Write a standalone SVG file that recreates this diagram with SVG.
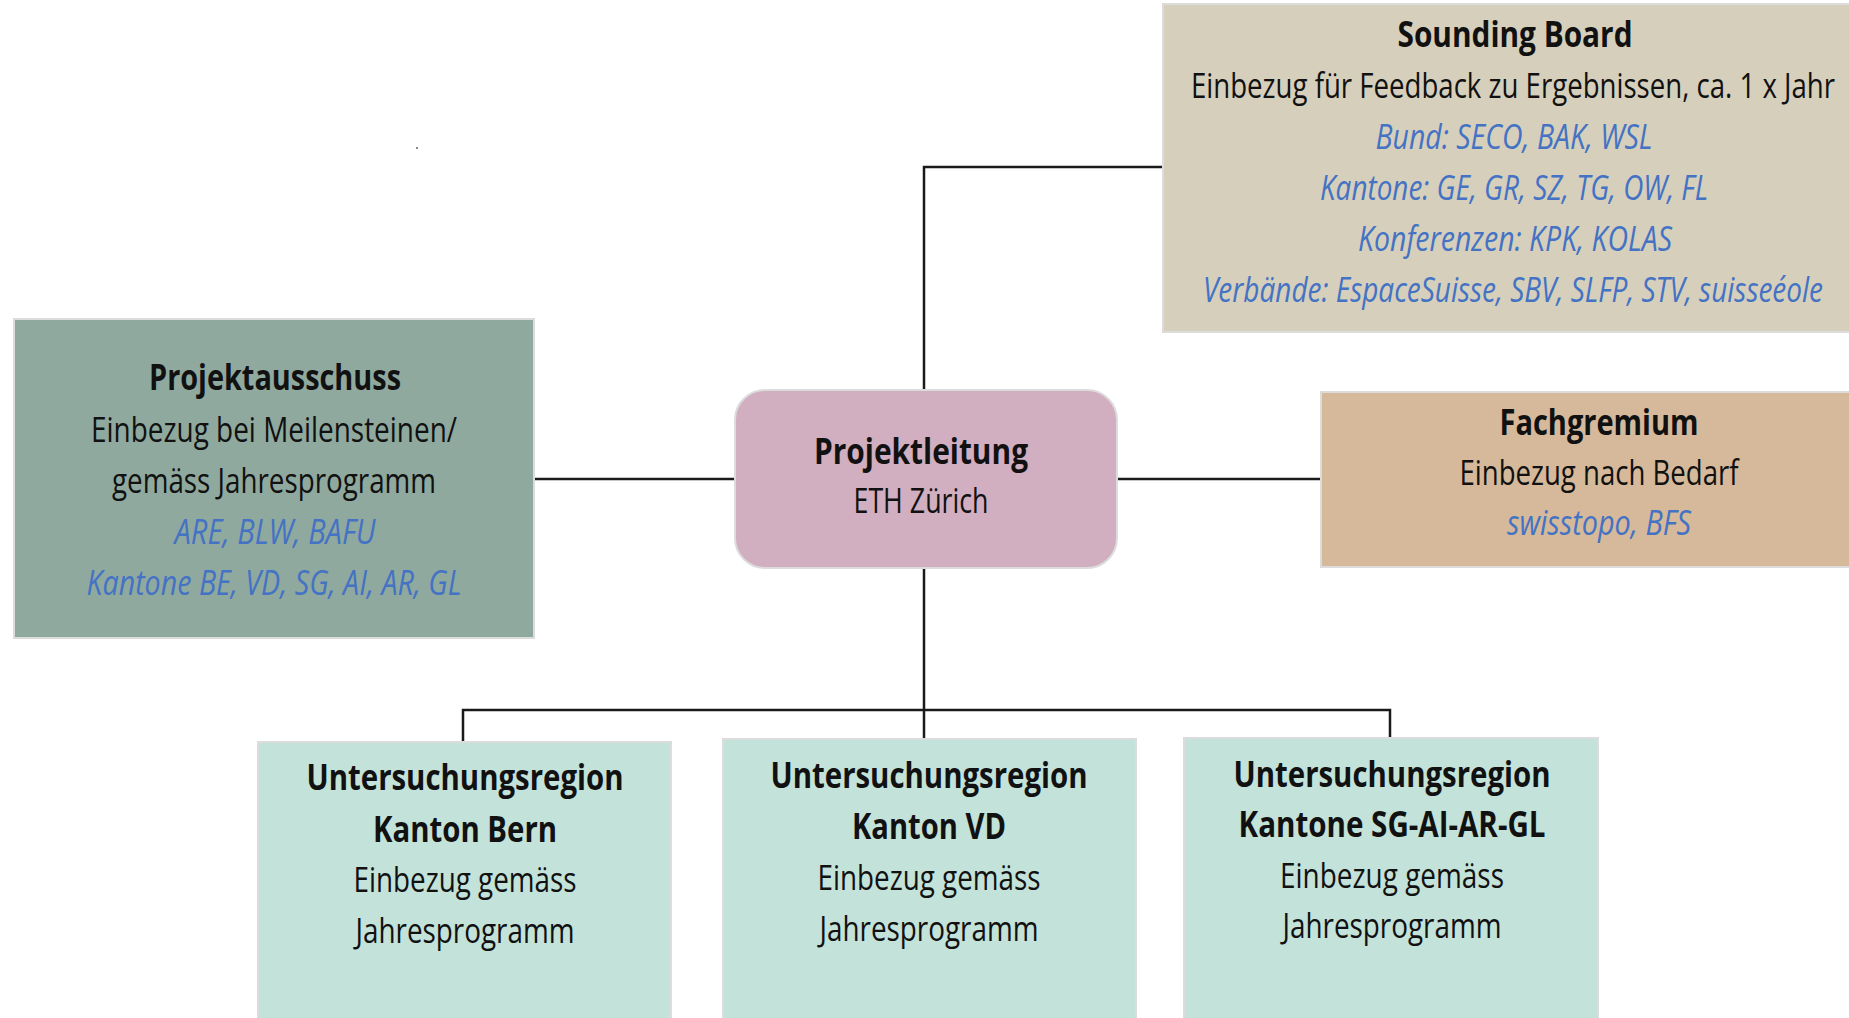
<svg xmlns="http://www.w3.org/2000/svg" width="1849" height="1018" viewBox="0 0 1849 1018">
<style>
text{font-family:"Open Sans","Noto Sans","Liberation Sans",sans-serif;font-size:35px;fill:#111;text-anchor:middle}
.b{font-weight:700}
.i{font-style:italic;fill:#4472c4}
.box{stroke:#dcdcdc;stroke-width:2}
.c{fill:none;stroke:#1a1a1a;stroke-width:2.5}
</style>
<rect width="1849" height="1018" fill="#ffffff"/>
<rect x="416" y="147" width="2" height="2" fill="#8a8a8a"/>
<g id="connectors">
<path class="c" d="M1163 167H924V390"/>
<path class="c" d="M534 479H736"/>
<path class="c" d="M1117 479H1321"/>
<path class="c" d="M924 567V739"/>
<path class="c" d="M463 742V710H1390V738"/>
</g>
<g id="sounding-board">
<rect class="box" x="1163" y="4" width="700" height="328" fill="#d5cfbb"/>
<text class="b" x="1515" y="47" textLength="235" lengthAdjust="spacingAndGlyphs">Sounding Board</text>
<text x="1513" y="98" textLength="644" lengthAdjust="spacingAndGlyphs">Einbezug für Feedback zu Ergebnissen, ca. 1 x Jahr</text>
<text class="i" x="1514" y="149" textLength="277" lengthAdjust="spacingAndGlyphs">Bund: SECO, BAK, WSL</text>
<text class="i" x="1514" y="200" textLength="388" lengthAdjust="spacingAndGlyphs">Kantone: GE, GR, SZ, TG, OW, FL</text>
<text class="i" x="1515" y="251" textLength="314" lengthAdjust="spacingAndGlyphs">Konferenzen: KPK, KOLAS</text>
<text class="i" x="1513" y="302" textLength="620" lengthAdjust="spacingAndGlyphs">Verbände: EspaceSuisse, SBV, SLFP, STV, suisseéole</text>
</g>
<g id="projektausschuss">
<rect class="box" x="14" y="319" width="520" height="319" fill="#8fa99f"/>
<text class="b" x="275" y="390" textLength="252" lengthAdjust="spacingAndGlyphs">Projektausschuss</text>
<text x="274" y="442" textLength="366" lengthAdjust="spacingAndGlyphs">Einbezug bei Meilensteinen/</text>
<text x="274" y="493" textLength="324" lengthAdjust="spacingAndGlyphs">gemäss Jahresprogramm</text>
<text class="i" x="275" y="544" textLength="201" lengthAdjust="spacingAndGlyphs">ARE, BLW, BAFU</text>
<text class="i" x="274" y="595" textLength="375" lengthAdjust="spacingAndGlyphs">Kantone BE, VD, SG, AI, AR, GL</text>
</g>
<g id="projektleitung">
<rect class="box" x="735" y="390" width="382" height="178" rx="30" fill="#d1aec0"/>
<text class="b" x="921" y="464" textLength="214" lengthAdjust="spacingAndGlyphs">Projektleitung</text>
<text x="921" y="513" textLength="135" lengthAdjust="spacingAndGlyphs">ETH Zürich</text>
</g>
<g id="fachgremium">
<rect class="box" x="1321" y="392" width="540" height="175" fill="#d5b99a"/>
<text class="b" x="1599" y="435" textLength="199" lengthAdjust="spacingAndGlyphs">Fachgremium</text>
<text x="1599" y="485" textLength="279" lengthAdjust="spacingAndGlyphs">Einbezug nach Bedarf</text>
<text class="i" x="1599" y="535" textLength="184" lengthAdjust="spacingAndGlyphs">swisstopo, BFS</text>
</g>
<g id="region-bern">
<rect class="box" x="258" y="742" width="413" height="290" fill="#c3e2d9"/>
<text class="b" x="465" y="790" textLength="317" lengthAdjust="spacingAndGlyphs">Untersuchungsregion</text>
<text class="b" x="465" y="842" textLength="184" lengthAdjust="spacingAndGlyphs">Kanton Bern</text>
<text x="465" y="892" textLength="223" lengthAdjust="spacingAndGlyphs">Einbezug gemäss</text>
<text x="465" y="943" textLength="219" lengthAdjust="spacingAndGlyphs">Jahresprogramm</text>
</g>
<g id="region-vd">
<rect class="box" x="723" y="739" width="413" height="290" fill="#c3e2d9"/>
<text class="b" x="929" y="788" textLength="317" lengthAdjust="spacingAndGlyphs">Untersuchungsregion</text>
<text class="b" x="929" y="839" textLength="154" lengthAdjust="spacingAndGlyphs">Kanton VD</text>
<text x="929" y="890" textLength="223" lengthAdjust="spacingAndGlyphs">Einbezug gemäss</text>
<text x="929" y="941" textLength="219" lengthAdjust="spacingAndGlyphs">Jahresprogramm</text>
</g>
<g id="region-sg">
<rect class="box" x="1184" y="738" width="414" height="290" fill="#c3e2d9"/>
<text class="b" x="1392" y="787" textLength="317" lengthAdjust="spacingAndGlyphs">Untersuchungsregion</text>
<text class="b" x="1392" y="837" textLength="307" lengthAdjust="spacingAndGlyphs">Kantone SG-AI-AR-GL</text>
<text x="1392" y="888" textLength="224" lengthAdjust="spacingAndGlyphs">Einbezug gemäss</text>
<text x="1392" y="938" textLength="219" lengthAdjust="spacingAndGlyphs">Jahresprogramm</text>
</g>
</svg>
